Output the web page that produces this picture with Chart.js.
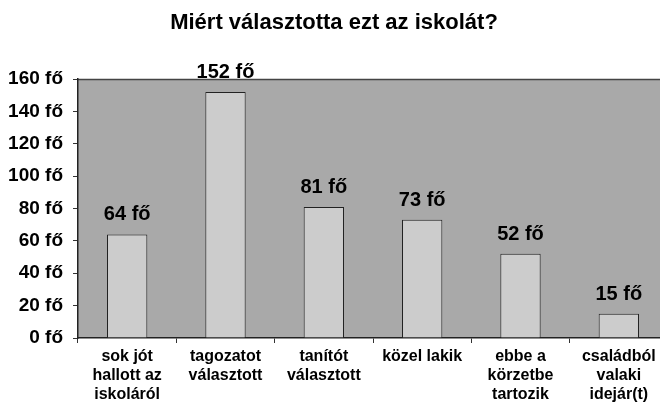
<!DOCTYPE html>
<html>
<head>
<meta charset="utf-8">
<script src="https://cdn.jsdelivr.net/npm/chart.js@4/dist/chart.umd.min.js"></script>
<style>
  html, body { margin: 0; padding: 0; background: #fff; overflow: hidden; }
  #wrap { width: 670px; height: 411px; position: relative; }
</style>
</head>
<body>
<div id="wrap"><canvas id="chart"></canvas></div>
<script>
const categories = [
  ["sok jót", "hallott az", "iskoláról"],
  ["tagozatot", "választott"],
  ["tanítót", "választott"],
  ["közel lakik"],
  ["ebbe a", "körzetbe", "tartozik"],
  ["családból", "valaki", "idejár(t)"]
];
const counts = [64, 152, 81, 73, 52, 15];
const yTicks = [0, 20, 40, 60, 80, 100, 120, 140, 160];

const FONT = "'Liberation Sans', Arial, sans-serif";

// szürke rajzterület + felső keret
const plotBg = {
  id: "plotBg",
  beforeDraw(chart) {
    const { ctx, chartArea: a } = chart;
    ctx.save();
    ctx.fillStyle = "#a9a9a9";
    ctx.fillRect(a.left, a.top, a.right - a.left, a.bottom - a.top);
    ctx.strokeStyle = "#444";
    ctx.lineWidth = 1.5;
    ctx.beginPath();
    ctx.moveTo(a.left, a.top + 0.5);
    ctx.lineTo(a.right, a.top + 0.5);
    ctx.stroke();
    ctx.restore();
  }
};

// értékek az oszlopok fölött
const barLabels = {
  id: "barLabels",
  afterDatasetsDraw(chart) {
    const { ctx } = chart;
    const meta = chart.getDatasetMeta(0);
    ctx.save();
    ctx.font = "bold 20px " + FONT;
    ctx.fillStyle = "#000";
    ctx.textAlign = "center";
    ctx.textBaseline = "alphabetic";
    meta.data.forEach((bar, i) => {
      ctx.fillText(counts[i] + " fő", bar.x, bar.y - 14);
    });
    ctx.restore();
  }
};

new Chart(document.getElementById("chart").getContext("2d"), {
  type: "bar",
  data: {
    labels: categories,
    datasets: [{
      data: counts,
      backgroundColor: "#cccccc",
      borderColor: "#222",
      borderWidth: 1,
      categoryPercentage: 1,
      barPercentage: 0.41
    }]
  },
  options: {
    responsive: true,
    maintainAspectRatio: false,
    animation: false,
    layout: { padding: { left: 0, right: 2, top: 0, bottom: 0 } },
    plugins: {
      legend: { display: false },
      tooltip: { enabled: false },
      title: {
        display: true,
        text: "Miért választotta ezt az iskolát?",
        color: "#000",
        font: { family: FONT, size: 22, weight: "bold", lineHeight: 1.2 },
        padding: { top: 10, bottom: 42.6 }
      }
    },
    scales: {
      x: {
        afterFit(scale) { scale.height = 73; },
        grid: { display: true, drawOnChartArea: false, drawTicks: true, tickLength: 5, color: "#333", offset: true },
        border: { display: true, color: "#222", width: 1.5 },
        ticks: {
          color: "#000",
          padding: 4,
          maxRotation: 0,
          autoSkip: false,
          font: { family: FONT, size: 16, weight: "bold", lineHeight: 1.2 }
        }
      },
      y: {
        min: 0,
        max: 160,
        afterFit(scale) { scale.width = 78; },
        afterBuildTicks(scale) { scale.ticks = yTicks.map(v => ({ value: v })); },
        grid: { display: true, drawOnChartArea: false, drawTicks: true, tickLength: 5, color: "#333" },
        border: { display: true, color: "#222", width: 1.5 },
        ticks: {
          color: "#000",
          padding: 10,
          font: { family: FONT, size: 19, weight: "bold" },
          callback: v => v + " fő"
        }
      }
    }
  },
  plugins: [plotBg, barLabels]
});
</script>
</body>
</html>
